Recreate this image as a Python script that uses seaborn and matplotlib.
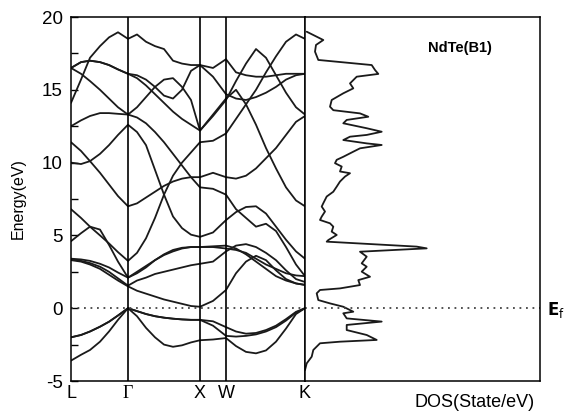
import numpy as np
import pandas as pd
import matplotlib
matplotlib.use("Agg")
import matplotlib.pyplot as plt
import seaborn as sns

# ---------------- data ----------------
# k-path sample positions (arbitrary path units)
k_path = [0, 10, 19, 29, 38, 47, 57, 66, 75, 84, 93, 102, 111, 120, 129,
          142, 155, 165, 175, 185, 195, 205, 215, 225, 234]
hs_labels = ["L", "Γ", "X", "W", "K"]
hs_positions = [0, 57, 129, 155, 234]

v1 = [-3.6, -3.2, -2.87, -2.3, -1.6, -0.8, 0.0, -0.55, -1.35, -2.0, -2.5, -2.65, -2.55, -2.35, -2.2,
      -2.15, -2.05, -2.6, -3.0, -3.1, -2.9, -2.3, -1.4, -0.4, 0.0]
v2 = [-2.0, -1.84, -1.6, -1.27, -0.93, -0.5, 0.0, -0.2, -0.4, -0.55, -0.65, -0.72, -0.77, -0.8, -0.8,
      -1.2, -1.9, -1.95, -1.9, -1.8, -1.6, -1.3, -0.85, -0.3, 0.0]
v3 = [-2.0, -1.84, -1.6, -1.27, -0.93, -0.5, 0.0, -0.2, -0.4, -0.55, -0.65, -0.72, -0.77, -0.8, -0.8,
      -0.9, -1.3, -1.6, -1.75, -1.7, -1.5, -1.2, -0.75, -0.25, 0.0]
c1 = [3.3, 3.2, 3.0, 2.7, 2.3, 1.9, 1.5, 1.2, 1.0, 0.8, 0.6, 0.45, 0.3, 0.15, 0.1,
      0.5, 1.25, 2.4, 3.2, 3.6, 3.3, 2.6, 2.0, 1.7, 1.6]
c2 = [3.35, 3.25, 3.1, 2.85, 2.5, 2.05, 1.55, 1.9, 2.1, 2.35, 2.5, 2.65, 2.8, 2.95, 3.05,
      3.2, 3.9, 4.3, 4.4, 4.2, 3.8, 3.3, 2.6, 2.0, 1.8]
c3 = [3.4, 3.35, 3.25, 3.05, 2.8, 2.45, 2.1, 2.5, 2.9, 3.3, 3.65, 3.9, 4.1, 4.2, 4.2,
      4.25, 4.3, 4.1, 3.7, 3.2, 2.7, 2.2, 1.9, 1.7, 1.6]
c4 = [4.6, 5.15, 5.6, 5.4, 4.35, 3.2, 2.1, 2.4, 2.8, 3.3, 3.7, 4.0, 4.15, 4.2, 4.2,
      4.2, 4.1, 4.0, 3.8, 3.4, 3.0, 2.7, 2.4, 2.25, 2.2]
c5 = [6.8, 6.2, 5.6, 5.0, 4.45, 3.85, 3.25, 3.8, 4.8, 6.2, 7.8, 9.1, 10.0, 10.7, 11.4,
      11.5, 12.0, 13.0, 14.0, 15.0, 16.2, 17.3, 18.3, 18.8, 18.5]
c6 = [11.4, 10.8, 10.1, 9.3, 8.5, 7.7, 7.0, 7.2, 7.6, 8.0, 8.4, 8.7, 8.9, 9.0, 9.0,
      9.3, 9.0, 8.9, 9.1, 9.6, 10.3, 11.0, 11.9, 12.8, 13.2]
c7 = [10.0, 9.9, 10.1, 10.6, 11.2, 11.9, 12.6, 12.1, 11.2, 9.5, 7.8, 6.3, 5.5, 5.05, 4.9,
      5.2, 6.05, 6.6, 6.95, 7.0, 6.5, 5.6, 4.7, 3.9, 3.4]
c8 = [16.5, 16.1, 15.6, 15.0, 14.4, 13.8, 13.3, 13.8, 14.5, 15.2, 15.7, 15.8, 15.2, 14.3, 12.2,
      13.2, 14.3, 15.6, 16.8, 17.8, 17.2, 16.0, 14.8, 13.8, 13.3]
c9 = [12.5, 12.9, 13.2, 13.4, 13.4, 13.35, 13.3, 13.1, 12.7, 12.1, 11.4, 10.6, 9.8, 9.0, 8.3,
      8.2, 7.8, 6.8, 6.2, 5.6, 5.8, 5.3, 4.2, 3.0, 2.2]
c10 = [16.5, 16.9, 17.0, 16.9, 16.7, 16.4, 16.1, 15.8, 15.3, 14.7, 14.1, 13.5, 13.0, 12.6, 12.2,
       13.3, 14.4, 15.0, 14.0, 12.6, 11.0, 9.6, 8.3, 7.4, 7.0]
c11 = [16.5, 16.9, 17.0, 16.9, 16.7, 16.4, 16.1, 16.0, 15.7, 15.2, 14.6, 14.4, 15.0, 16.3, 16.7,
       15.9, 14.7, 14.4, 14.3, 14.5, 14.8, 15.2, 15.7, 16.0, 16.1]
c12 = [14.1, 15.7, 17.2, 18.0, 18.6, 18.95, 18.5, 18.8, 18.3, 18.0, 17.8, 17.0, 16.8, 16.7, 16.7,
       16.5, 17.1, 16.2, 16.0, 15.9, 15.9, 16.0, 16.1, 16.1, 16.1]

bands = [v1, v2, v3, c1, c2, c3, c4, c5, c6, c7, c8, c9, c10, c11, c12]

dos_energy = [18.99, 18.42, 18.08, 17.62, 17.05, 16.70, 16.36, 16.09, 15.9, 15.44, 15.1, 14.76,
              14.3, 13.84, 13.6, 13.38, 13.15, 12.93, 12.7, 12.36, 12.12, 11.9, 11.78, 11.55,
              11.32, 11.21, 10.98, 10.75, 10.4, 10.19, 9.96, 9.73, 9.39, 9.27, 9.04, 8.7, 8.35,
              8.0, 7.67, 7.21, 6.98, 6.64, 6.29, 6.06, 5.83, 5.6, 5.26, 5.03, 4.68, 4.57, 4.23,
              4.11, 3.88, 3.54, 3.08, 2.85, 2.51, 2.16, 1.93, 1.59, 1.36, 1.25, 1.02, 0.56, 0.33,
              0.1, -0.24, -0.35, -0.7, -0.92, -1.15, -1.5, -1.84, -2.18, -2.3, -2.41, -2.87,
              -3.33, -3.79, -4.25]
dos_value = [0.17, 1.83, 1.1, 1.0, 1.33, 6.67, 7.0, 7.33, 5.17, 4.5, 4.83, 3.83,
             2.67, 2.5, 2.83, 5.5, 6.33, 4.17, 3.83, 6.17, 7.67, 6.17, 4.5, 3.83,
             6.17, 7.67, 5.5, 4.83, 3.83, 3.17, 3.0, 3.67, 3.5, 4.5, 4.0, 3.5, 3.17,
             2.83, 2.17, 1.83, 1.67, 2.0, 1.67, 1.5, 2.5, 2.83, 2.67, 3.17, 2.33, 2.17, 11.17,
             12.17, 5.5, 6.17, 5.67, 6.17, 5.67, 6.5, 5.33, 5.5, 3.5, 1.5, 1.17, 1.33, 2.5,
             3.83, 4.83, 3.83, 4.17, 7.67, 4.17, 4.17, 6.17, 7.17, 3.5, 1.5, 0.83,
             0.67, 0.17, 0.0]

# ---------------- style ----------------
sns.set_theme(style="white")
plt.rcParams["font.family"] = ["Liberation Sans", "DejaVu Sans"]
plt.rcParams["axes.unicode_minus"] = False
plt.rcParams["text.color"] = "black"
plt.rcParams["axes.labelcolor"] = "black"
plt.rcParams["xtick.color"] = "black"
plt.rcParams["ytick.color"] = "black"
plt.rcParams["axes.edgecolor"] = "black"

W, H = 567, 419
fig = plt.figure(figsize=(W / 100, H / 100), dpi=100)
bottom = 1 - 381 / H
height = 364 / H
ax = fig.add_axes([71 / W, bottom, 234 / W, height])
axd = fig.add_axes([305 / W, bottom, 235 / W, height])

line_color = "#1a1a1a"

# band structure
rows = []
for i, b in enumerate(bands):
    for kk, e in zip(k_path, b):
        rows.append({"band": i, "k": kk, "E": e})
df = pd.DataFrame(rows)
sns.lineplot(data=df, x="k", y="E", units="band", estimator=None, sort=False,
             color=line_color, lw=1.3, ax=ax, legend=False)

for p in hs_positions[1:-1]:
    ax.axvline(p, color="black", lw=1.2)
ax.axhline(0, color="#444444", lw=1.3, ls=(0, (1, 2.6)))

ax.set_xlim(0, 234)
ax.set_ylim(-5, 20)
ax.set_xticks(hs_positions)
ax.set_xticklabels(hs_labels, fontsize=13)
for lab in ax.get_xticklabels():
    if lab.get_text() == "Γ":
        lab.set_fontfamily(["Liberation Serif", "DejaVu Serif"])
ax.tick_params(axis="x", length=0, pad=3)
ax.set_yticks([-5, 0, 5, 10, 15, 20])
ax.set_yticks(np.arange(-5, 20.1, 2.5), minor=True)
ax.tick_params(axis="y", which="both", direction="in", length=5, width=1,
               labelsize=13.5, pad=6, left=True)
ax.set_xlabel("")
ax.set_ylabel("Energy(eV)", fontsize=11.5)
ax.yaxis.set_label_coords(-0.195, 0.5)
for s in ax.spines.values():
    s.set_linewidth(1.1)
    s.set_color("black")

# DOS
ddf = pd.DataFrame({"dos": dos_value, "E": dos_energy})
sns.lineplot(data=ddf, x="dos", y="E", sort=False, estimator=None,
             color=line_color, lw=1.3, ax=axd)
axd.axhline(0, color="#444444", lw=1.3, ls=(0, (1, 2.6)))
axd.set_xlim(0, 23.5)
axd.set_ylim(-5, 20)
axd.set_xticks([])
axd.set_yticks([])
axd.set_ylabel("")
axd.set_xlabel("DOS(State/eV)", fontsize=13, loc="right", labelpad=11)
axd.xaxis.set_label_coords(0.975, -0.035, transform=axd.transAxes)
axd.xaxis.label.set_va("top")
for s in axd.spines.values():
    s.set_linewidth(1.1)
    s.set_color("black")
axd.text(15.5, 17.9, "NdTe(B1)", fontsize=10.5, fontweight="bold",
         ha="center", va="center")
axd.text(1.03, -0.15, r"$\mathbf{E}_{\mathrm{f}}$", transform=axd.get_yaxis_transform(),
         fontsize=12, ha="left", va="center")

fig.savefig("out.png", dpi=100)
